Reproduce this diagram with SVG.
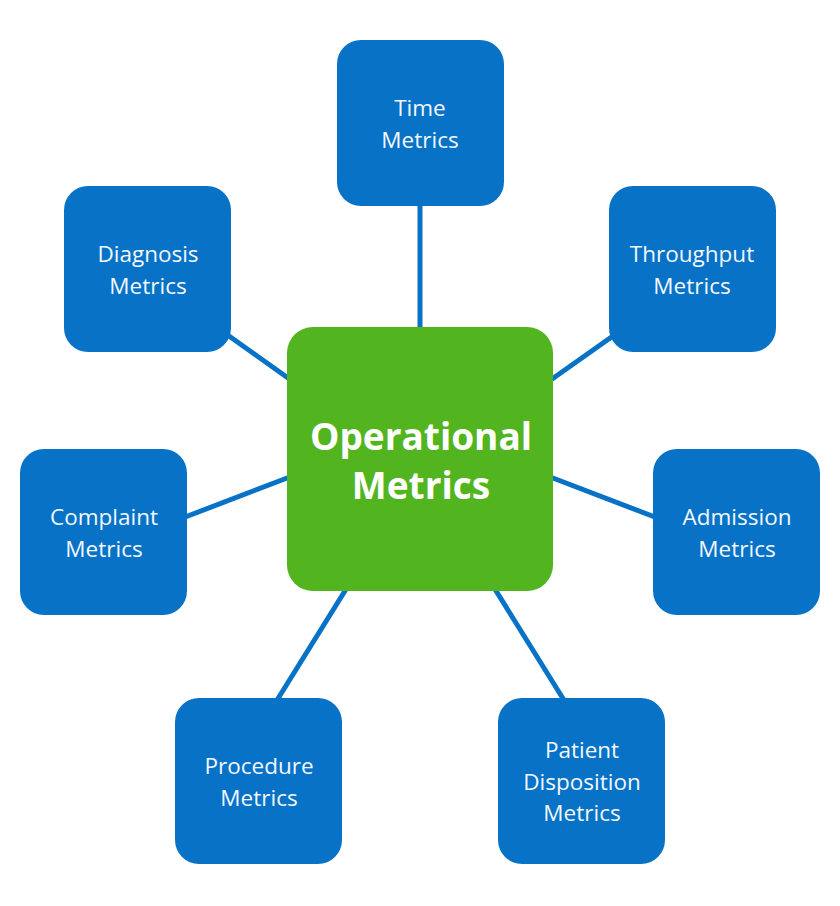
<svg xmlns="http://www.w3.org/2000/svg" width="840" height="906" viewBox="0 0 840 906">
<style>
.n{fill:#0772C6}
.c{fill:#52B520}
.t{font-family:"Open Sans","Noto Sans","Liberation Sans",sans-serif;font-size:22.5px;fill:#F2F8FF;text-anchor:middle}
.tc{font-family:"Open Sans","Noto Sans","Liberation Sans",sans-serif;font-size:37px;font-weight:bold;fill:#FFFFFF;text-anchor:middle}
#edges line{stroke:#0772C6;stroke-width:5}
</style>
<rect width="840" height="906" fill="#FFFFFF"/>
<g id="edges">
<line x1="420" y1="200" x2="420" y2="335"/>
<line x1="620" y1="331" x2="545" y2="384"/>
<line x1="222" y1="331" x2="295" y2="383"/>
<line x1="180" y1="519" x2="295" y2="475"/>
<line x1="660" y1="519" x2="545" y2="475"/>
<line x1="274" y1="705" x2="348" y2="586"/>
<line x1="567" y1="705" x2="493" y2="586"/>
</g>
<g id="time"><rect class="n" x="337" y="40" width="167" height="166" rx="24"/><text class="t"><tspan x="420" y="116">Time</tspan><tspan x="420" y="148">Metrics</tspan></text></g>
<g id="throughput"><rect class="n" x="609" y="186" width="167" height="166" rx="24"/><text class="t"><tspan x="692" y="262">Throughput</tspan><tspan x="692" y="294">Metrics</tspan></text></g>
<g id="diagnosis"><rect class="n" x="64" y="186" width="167" height="166" rx="24"/><text class="t"><tspan x="148" y="262">Diagnosis</tspan><tspan x="148" y="294">Metrics</tspan></text></g>
<g id="complaint"><rect class="n" x="20" y="449" width="167" height="166" rx="24"/><text class="t"><tspan x="104" y="525">Complaint</tspan><tspan x="104" y="557">Metrics</tspan></text></g>
<g id="admission"><rect class="n" x="653" y="449" width="167" height="166" rx="24"/><text class="t"><tspan x="737" y="525">Admission</tspan><tspan x="737" y="557">Metrics</tspan></text></g>
<g id="procedure"><rect class="n" x="175" y="698" width="167" height="166" rx="24"/><text class="t"><tspan x="259" y="774">Procedure</tspan><tspan x="259" y="806">Metrics</tspan></text></g>
<g id="disposition"><rect class="n" x="498" y="698" width="167" height="166" rx="24"/><text class="t"><tspan x="582" y="758">Patient</tspan><tspan x="582" y="790">Disposition</tspan><tspan x="582" y="821">Metrics</tspan></text></g>
<g id="operational"><rect class="c" x="287" y="327" width="266" height="264" rx="26"/><text class="tc"><tspan x="421" y="450">Operational</tspan><tspan x="421" y="499">Metrics</tspan></text></g>
</svg>
